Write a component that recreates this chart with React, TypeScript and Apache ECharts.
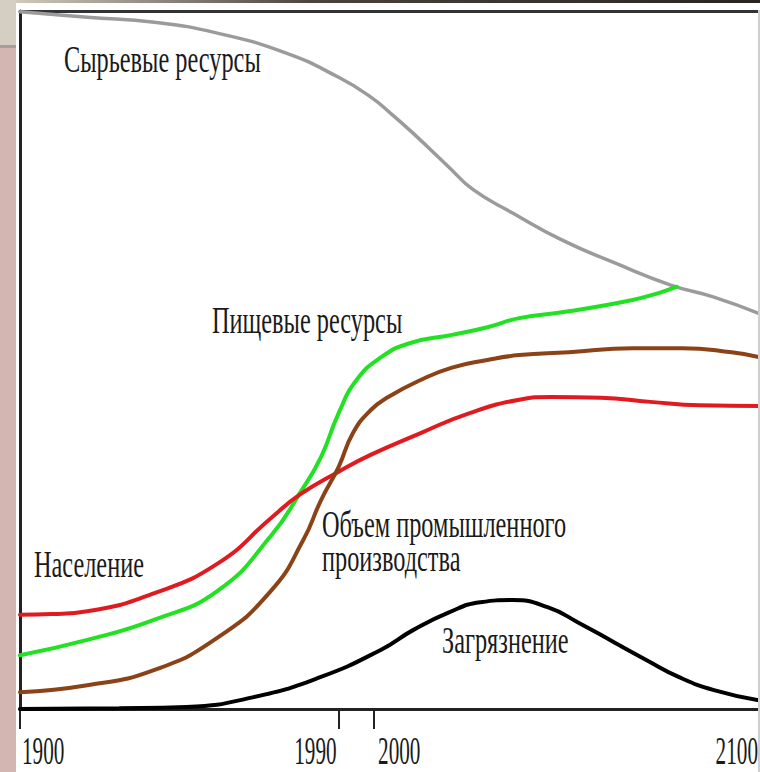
import React, { useEffect, useRef } from "react";
import * as echarts from "echarts";

// [year, relative level 0..100]
const resources: [number, number][] = [
  [1900, 99.9], [1919, 99.1], [1938, 98.4], [1956, 96.8], [1975, 94.0], [1990, 90.5],
  [1999, 87.7], [2005, 85.2], [2011, 82.5], [2021, 77.7], [2028, 74.4], [2039, 71.1],
  [2053, 67.2], [2068, 63.9], [2084, 60.7], [2096, 59.0], [2109, 56.6],
];
const food: [number, number][] = [
  [1900, 7.7], [1919, 9.9], [1938, 12.8], [1956, 17.0], [1971, 24.9], [1979, 30.9],
  [1985, 36.1], [1990, 42.4], [1995, 47.1], [2002, 50.4], [2010, 52.4], [2022, 53.6],
  [2032, 54.7], [2041, 56.0], [2054, 56.9], [2073, 58.6], [2081, 59.7], [2085.5, 60.5],
];
const population: [number, number][] = [
  [1900, 13.5], [1909, 13.6], [1919, 14.0], [1938, 16.6], [1956, 20.9], [1971, 27.4],
  [1979, 30.7], [1990, 34.0], [1999, 36.4], [2013, 39.5], [2027, 42.4], [2041, 44.3],
  [2050, 44.7], [2064, 44.6], [2078, 44.0], [2092, 43.5], [2109, 43.4],
];
const industry: [number, number][] = [
  [1900, 2.4], [1919, 3.4], [1938, 5.6], [1956, 10.3], [1971, 17.0], [1980, 24.2],
  [1985, 29.9], [1990, 34.7], [1994, 39.5], [1999, 42.8], [2004, 44.7], [2013, 47.1],
  [2022, 48.9], [2032, 50.0], [2041, 50.7], [2055, 51.1], [2073, 51.7], [2087, 51.7],
  [2101, 51.1], [2109, 50.4],
];
const pollution: [number, number][] = [
  [1900, 0.0], [1928, 0.1], [1947, 0.3], [1966, 1.7], [1985, 4.6], [2002, 8.5],
  [2011, 11.3], [2021, 13.8], [2030, 15.3], [2039, 15.6], [2049, 14.6], [2058, 12.3],
  [2068, 9.5], [2077, 7.0], [2086, 4.6], [2096, 2.7], [2109, 1.2],
];

const xMin = 1900;
const xMax = 2109;
const xTickMarks = [1900, 1990, 2000];
const xTickLabels = ["1900", "1990", "2000", "2100"];
// axis value each label is anchored to, and on which side of it the label sits
const xTickLabelAnchors = [1900, 1990, 2000, xMax];
const xTickLabelAlign = ["left", "right", "left", "right"];

const seriesNames = [
  "Сырьевые ресурсы",
  "Пищевые ресурсы",
  "Население",
  "Объем промышленного производства",
  "Загрязнение",
];

const FONT = "'Liberation Serif', 'Times New Roman', serif";

export default function App() {
  const ref = useRef<HTMLDivElement>(null);

  useEffect(() => {
    if (!ref.current) return;
    const chart = echarts.init(ref.current, null, { renderer: "svg" });

    const line = (name: string, data: [number, number][], color: string, width: number, z: number) => ({
      type: "line",
      name,
      data,
      smooth: 0.5,
      showSymbol: false,
      symbol: "none",
      z,
      lineStyle: { color, width, cap: "round" },
      emphasis: { disabled: true },
    });

    chart.setOption({
      animation: false,
      backgroundColor: "#ffffff",
      grid: { left: 20, right: 0, top: 11, bottom: 63 },
      xAxis: [
        {
          type: "value",
          min: xMin,
          max: xMax,
          position: "bottom",
          axisLine: { show: true, lineStyle: { color: "#222", width: 3 } },
          axisTick: {
            show: true,
            customValues: xTickMarks,
            length: 20,
            inside: false,
            lineStyle: { color: "#222", width: 2 },
          },
          axisLabel: { show: false },
          splitLine: { show: false },
        },
        {
          type: "value",
          min: xMin,
          max: xMax,
          position: "top",
          axisLine: { show: true, lineStyle: { color: "#333", width: 3 } },
          axisTick: { show: false },
          axisLabel: { show: false },
          splitLine: { show: false },
        },
      ],
      yAxis: {
        type: "value",
        min: 0,
        max: 100,
        axisLine: { show: true, lineStyle: { color: "#222", width: 3 } },
        axisTick: { show: false },
        axisLabel: { show: false },
        splitLine: { show: false },
      },
      series: [
        line(seriesNames[0], resources, "#9b9b9b", 3.5, 2),
        line(seriesNames[1], food, "#22e022", 4, 3),
        line(seriesNames[2], population, "#e01a1e", 4, 3),
        line(seriesNames[3], industry, "#8b4216", 4, 3),
        line(seriesNames[4], pollution, "#000000", 4, 3),
      ],
    });

    const tickTexts = xTickLabels.map((label, i) => {
      const px = chart.convertToPixel({ xAxisIndex: 0 }, xTickLabelAnchors[i]) as number;
      const align = xTickLabelAlign[i];
      const gap = align === "left" ? (i === 0 ? 2 : 4) : (i === xTickLabels.length - 1 ? -2 : -2);
      return {
        type: "text",
        x: px + gap,
        y: 750,
        scaleX: 0.53,
        z: 100,
        silent: true,
        style: {
          text: label,
          fontFamily: FONT,
          fontSize: 40,
          fill: "#1a1a1a",
          align,
          verticalAlign: "middle",
        },
      };
    });

    const ann = (text: string, x: number, y: number) => ({
      type: "text",
      x,
      y,
      scaleX: 0.64,
      z: 100,
      silent: true,
      style: {
        text,
        fontFamily: FONT,
        fontSize: 38,
        fill: "#1a1a1a",
        align: "left",
        verticalAlign: "middle",
      },
    });

    chart.setOption({
      graphic: [
        { type: "rect", z: -5, silent: true, shape: { x: 0, y: 48, width: 16, height: 724 }, style: { fill: "#d3b6b2" } },
        { type: "rect", z: -5, silent: true, shape: { x: 0, y: 0, width: 16, height: 45 }, style: { fill: "#d5cec2" } },
        { type: "rect", z: -5, silent: true, shape: { x: 0, y: 45, width: 16, height: 3 }, style: { fill: "#a99c9b" } },
        {
          type: "rect",
          z: -5,
          silent: true,
          shape: { x: 16, y: 0, width: 744, height: 3 },
          style: {
            fill: new echarts.graphic.LinearGradient(0, 0, 1, 0, [
              { offset: 0, color: "#cfc8bb" },
              { offset: 0.4, color: "#4a423b" },
              { offset: 1, color: "#2a2420" },
            ]),
          },
        },
        { type: "line", z: 50, silent: true, shape: { x1: 759, y1: 10, x2: 759, y2: 772 }, style: { stroke: "#cfcfcf", lineWidth: 2 } },
        ann("Сырьевые ресурсы", 64, 59),
        ann("Пищевые ресурсы", 212, 320),
        ann("Население", 34, 564),
        ann("Объем промышленного", 322, 524),
        ann("производства", 322, 558),
        ann("Загрязнение", 442, 640),
        ...tickTexts,
      ],
    });

    return () => chart.dispose();
  }, []);

  return (
    <div
      ref={ref}
      style={{ position: "absolute", left: 0, top: 0, width: 760, height: 772, background: "#fff" }}
    />
  );
}
